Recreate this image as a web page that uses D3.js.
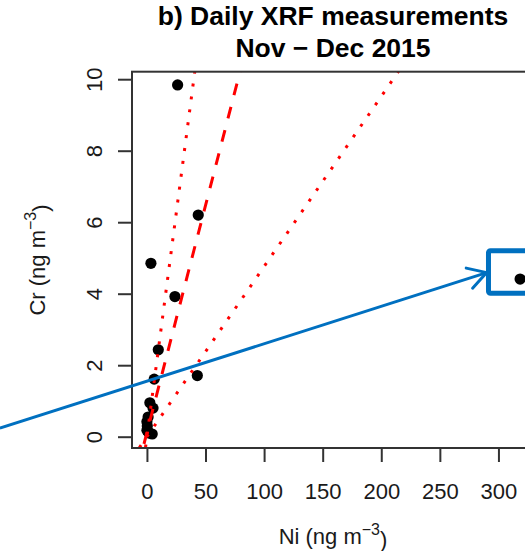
<!DOCTYPE html>
<html>
<head>
<meta charset="utf-8">
<script src="https://cdn.jsdelivr.net/npm/d3@7"></script>
<style>
  body { margin: 0; background: #fff; }
  svg { display: block; font-family: "Liberation Sans", Arial, sans-serif; }
</style>
</head>
<body>
<div id="chart"></div>
<script>
// data (Ni vs Cr, ng m-3)
var niValues = [26.2, 43.8, 3.4, 23.9, 9.7, 43.0, 6.2, 2.5, 5.2, 1.0, 0.0, 0.3, 0.0, 1.5, 4.5, 2.0, 318.5];
var crValues = [9.84, 6.20, 4.85, 3.92, 2.43, 1.71, 1.61, 0.95, 0.80, 0.55, 0.42, 0.30, 0.18, 0.12, 0.075, 0.10, 4.41];

// fitted line (dashed) and its two bounds (dotted)
var lineNames = ["upper", "fit", "lower"];
var lineSlopes = [0.25, 0.127, 0.0476];
var lineIntercepts = [0.0, 0.12, 0.0];

var xTicks = [0, 50, 100, 150, 200, 250, 300];
var yTicks = [0, 2, 4, 6, 8, 10];

// outlier annotation, in data units
var arrowFrom = [-125.5, 0.24];
var arrowTo = [290, 4.59];
var boxCorners = [[291.5, 5.2], [345, 4.01]];

var width = 525;
var height = 551;

var svg = d3.select("#chart")
    .append("svg")
    .attr("width", width)
    .attr("height", height);

var x = d3.scaleLinear().domain([-12.74, 331.2]).range([132, 535]);
var y = d3.scaleLinear().domain([-0.316, 10.21]).range([448, 71.7]);

var inkColor = "#1a1a1a";
var blue = "#0070c0";

// title
svg.append("text")
    .attr("x", 333).attr("y", 25)
    .attr("text-anchor", "middle")
    .style("font-size", "26.5px").style("font-weight", "bold")
    .text("b) Daily XRF measurements");
svg.append("text")
    .attr("x", 333).attr("y", 57)
    .attr("text-anchor", "middle")
    .style("font-size", "26.5px").style("font-weight", "bold")
    .text("Nov \u2212 Dec 2015");

// clip to plot region
svg.append("clipPath").attr("id", "plotclip")
    .append("rect")
    .attr("x", x.range()[0]).attr("y", y.range()[1])
    .attr("width", x.range()[1] - x.range()[0])
    .attr("height", y.range()[0] - y.range()[1]);

var plot = svg.append("g").attr("clip-path", "url(#plotclip)");

// points
plot.selectAll("circle")
    .data(niValues)
    .enter()
    .append("circle")
    .attr("cx", function(d) { return x(d); })
    .attr("cy", function(d, i) { return y(crValues[i]); })
    .attr("r", 5.6)
    .attr("fill", "#000");

// red lines
plot.selectAll("line.fit")
    .data(lineNames)
    .enter()
    .append("line")
    .attr("class", "fit")
    .attr("x1", x(x.domain()[0]))
    .attr("x2", x(x.domain()[1]))
    .attr("y1", function(d, i) { return y(lineIntercepts[i] + lineSlopes[i] * x.domain()[0]); })
    .attr("y2", function(d, i) { return y(lineIntercepts[i] + lineSlopes[i] * x.domain()[1]); })
    .attr("stroke", "#ff0000")
    .attr("stroke-width", 3)
    .attr("stroke-dasharray", function(d) { return d == "fit" ? "12,12" : "3,10"; });

// box
svg.append("rect")
    .attr("x", x.range()[0]).attr("y", y.range()[1])
    .attr("width", x.range()[1] - x.range()[0])
    .attr("height", y.range()[0] - y.range()[1])
    .attr("fill", "none")
    .attr("stroke", "#333")
    .attr("stroke-width", 2);

// x axis
var xAxis = svg.append("g")
    .attr("transform", "translate(0," + y.range()[0] + ")")
    .call(d3.axisBottom(x).tickValues(xTicks).tickSize(14).tickFormat(d3.format("d")));
xAxis.select(".domain").remove();
xAxis.selectAll("line").attr("stroke", "#333").attr("stroke-width", 2);
xAxis.selectAll("text")
    .attr("y", 51).attr("dy", null)
    .attr("fill", inkColor)
    .style("font-size", "22px")
    .style("font-family", "Liberation Sans, Arial, sans-serif");

// y axis
var yAxis = svg.append("g")
    .attr("transform", "translate(" + x.range()[0] + ",0)")
    .call(d3.axisLeft(y).tickValues(yTicks).tickSize(14).tickFormat(d3.format("d")));
yAxis.select(".domain").remove();
yAxis.selectAll("line").attr("stroke", "#333").attr("stroke-width", 2);
yAxis.selectAll("text")
    .attr("x", null).attr("dy", null)
    .attr("text-anchor", "middle")
    .attr("transform", "translate(-30.5,0) rotate(-90)")
    .attr("fill", inkColor)
    .style("font-size", "22px")
    .style("font-family", "Liberation Sans, Arial, sans-serif");

// axis titles
function unitLabel(sel, name) {
    sel.append("tspan").text(name + " (ng m");
    sel.append("tspan").attr("dy", "-0.55em").style("font-size", "16px").text("\u22123");
    sel.append("tspan").attr("dy", "0.55em").text(")");
}
var xt = svg.append("text")
    .attr("x", 333).attr("y", 544)
    .attr("text-anchor", "middle")
    .attr("fill", inkColor)
    .style("font-size", "22px");
unitLabel(xt, "Ni");

var yt = svg.append("text")
    .attr("transform", "translate(45,260) rotate(-90)")
    .attr("text-anchor", "middle")
    .attr("fill", inkColor)
    .style("font-size", "22px");
unitLabel(yt, "Cr");

// blue annotation: arrow to the outlier and box round it
var ax1 = x(arrowFrom[0]), ay1 = y(arrowFrom[1]);
var ax2 = x(arrowTo[0]), ay2 = y(arrowTo[1]);
var ang = Math.atan2(ay1 - ay2, ax1 - ax2);
var wing = 21, spread = Math.PI / 6;

svg.append("line")
    .attr("x1", ax1).attr("y1", ay1)
    .attr("x2", ax2).attr("y2", ay2)
    .attr("stroke", blue).attr("stroke-width", 3);

svg.append("path")
    .attr("d", "M" + (ax2 + wing * Math.cos(ang - spread)) + "," + (ay2 + wing * Math.sin(ang - spread)) +
        "L" + ax2 + "," + ay2 +
        "L" + (ax2 + wing * Math.cos(ang + spread)) + "," + (ay2 + wing * Math.sin(ang + spread)))
    .attr("fill", "none")
    .attr("stroke", blue).attr("stroke-width", 3)
    .attr("stroke-linecap", "round").attr("stroke-linejoin", "round");

svg.append("rect")
    .attr("x", x(boxCorners[0][0])).attr("y", y(boxCorners[0][1]))
    .attr("width", x(boxCorners[1][0]) - x(boxCorners[0][0]))
    .attr("height", y(boxCorners[1][1]) - y(boxCorners[0][1]))
    .attr("rx", 2)
    .attr("fill", "none")
    .attr("stroke", blue).attr("stroke-width", 5);
</script>
</body>
</html>
